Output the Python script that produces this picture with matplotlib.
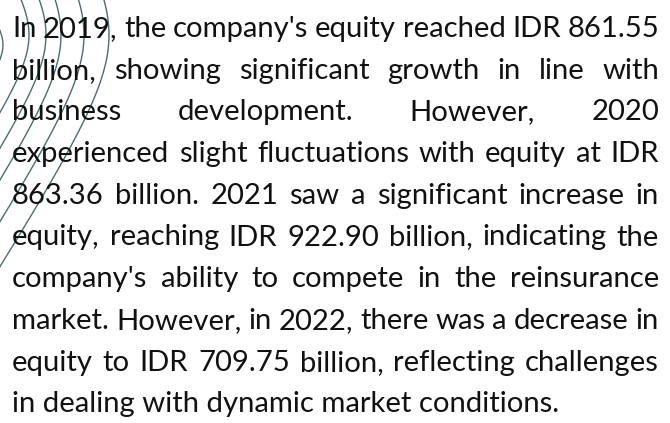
import numpy as np
import matplotlib
matplotlib.use("Agg")
import matplotlib.pyplot as plt

# paragraph, broken into lines as in the picture (last line is not justified)
lines = [
    "In 2019, the company's equity reached IDR 861.55",
    "billion, showing significant growth in line with",
    "business development. However, 2020",
    "experienced slight fluctuations with equity at IDR",
    "863.36 billion. 2021 saw a significant increase in",
    "equity, reaching IDR 922.90 billion, indicating the",
    "company's ability to compete in the reinsurance",
    "market. However, in 2022, there was a decrease in",
    "equity to IDR 709.75 billion, reflecting challenges",
    "in dealing with dynamic market conditions.",
]

# decorative arcs in the top-left corner (peak x, peak y, roundness)
arc_peak_x = [3, 29, 46, 61, 84, 109]
arc_peak_y = [45, 35, 35, 35, 35, 35]
arc_round = [20, 45, 55, 65, 70, 76]
arc_slope = 0.65
arc_color = '#4d6b70'

W, H = 670, 423
left, right = 12, 659
last_line_end = 567
first_baseline = 37
line_step = 41.7
font = 'Lato'
text_color = '#111111'

fig = plt.figure(figsize=(W / 100, H / 100), dpi=100)
ax = fig.add_axes([0, 0, 1, 1])
ax.set_xlim(0, W)
ax.set_ylim(H, 0)
ax.axis('off')

# arcs: a ")" shape that runs into a straight diagonal
yy = np.linspace(-20, 320, 500)
for px, py, h in zip(arc_peak_x, arc_peak_y, arc_round):
    xx = px - arc_slope * (np.sqrt((yy - py) ** 2 + h ** 2) - h)
    ax.plot(xx, yy, color=arc_color, lw=1.0, zorder=1)

fig.canvas.draw()
renderer = fig.canvas.get_renderer()


def text_width(s, size):
    t = ax.text(0, 0, s, fontsize=size, family=font)
    w = t.get_window_extent(renderer).width
    t.remove()
    return w


# size: halfway between "widest line just fits" and "last line ends where it does"
base = 20
widest = max(text_width(s, base) for s in lines[:-1])
size_fit = base * (right - left) / widest
size_last = base * (last_line_end - left) / text_width(lines[-1], base)
size = (size_fit + size_last) / 2

for i, s in enumerate(lines):
    y = first_baseline + i * line_step
    if i == len(lines) - 1:
        ax.text(left, y, s, fontsize=size, family=font, color=text_color,
                ha='left', va='baseline', zorder=3)
        continue
    words = s.split()
    ws = [text_width(w, size) for w in words]
    gap = (right - left - sum(ws)) / (len(words) - 1)
    x = left
    for w, wd in zip(words, ws):
        ax.text(x, y, w, fontsize=size, family=font, color=text_color,
                ha='left', va='baseline', zorder=3)
        x += wd + gap

fig.savefig("out.png", dpi=100)
